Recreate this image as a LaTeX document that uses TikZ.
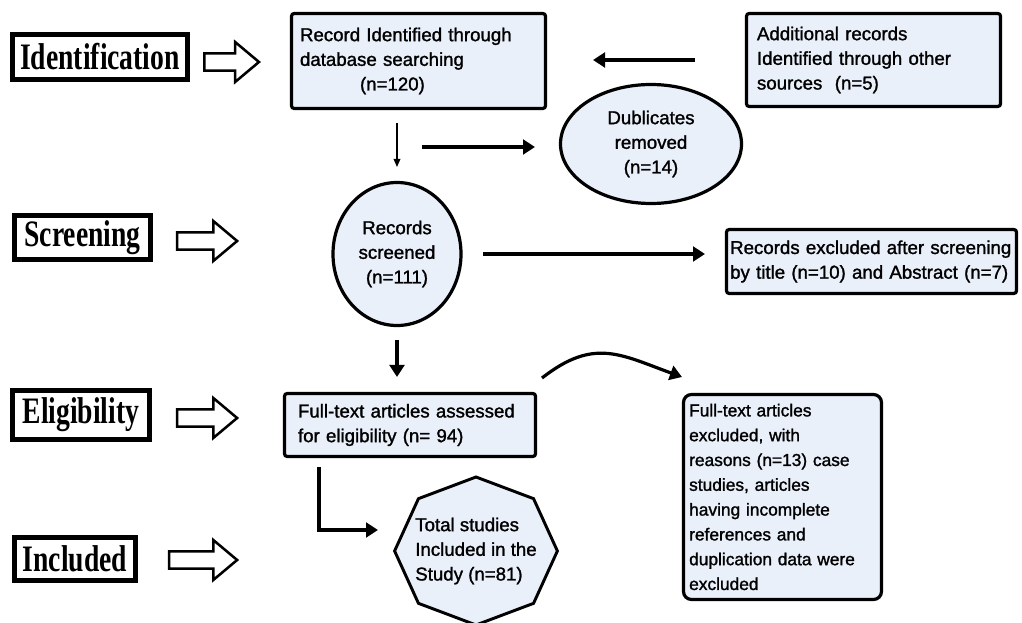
\documentclass[tikz,border=0pt]{standalone}
\usepackage{fontspec}
\setsansfont{Liberation Sans}[FakeBold=1.4]
\newfontfamily\stagefont{Liberation Serif}[FakeStretch=0.74]
\usetikzlibrary{shapes.geometric,shapes.arrows,arrows.meta}
\definecolor{boxfill}{RGB}{234,240,250}
\tikzset{
  stage/.style={draw, line width=3.6pt, inner sep=0pt, fill=white,
    font=\stagefont\bfseries\fontsize{28}{30}\selectfont},
  hollow/.style={single arrow, draw, line width=1.9pt, fill=white,
    inner xsep=0pt, inner ysep=5.5pt, single arrow head extend=8.5pt,
    single arrow tip angle=80},
  box/.style={draw, line width=2.4pt, fill=boxfill, rounded corners=2pt,
    inner sep=0pt, align=left, font=\sffamily\fontsize{14}{18.5}\selectfont},
  oval/.style={ellipse, draw, line width=2.4pt, fill=boxfill, inner sep=0pt,
    align=center, font=\sffamily\fontsize{14}{18.5}\selectfont},
  octa/.style={regular polygon, regular polygon sides=8, shape border rotate=22.5,
    draw, line width=2.2pt, fill=boxfill, inner sep=0pt, minimum size=111pt,
    xscale=1.1, transform shape},
  flow/.style={line width=2.4pt, -{Triangle[length=9pt,width=11pt]}},
  thinflow/.style={line width=0.9pt, -{Triangle[length=6pt,width=5pt]}}
}
\begin{document}
\begin{tikzpicture}[x=0.75pt,y=-0.75pt]
  \useasboundingbox (0,0) rectangle (1022,623);
  \fill[white] (0,0) rectangle (1022,623);

  \node[stage, minimum width=131pt, minimum height=33.75pt] (ident) at (100,57) {Identification};
  \node[stage, minimum width=102pt, minimum height=33pt] (scr) at (82.5,237.5) {Screening};
  \node[stage, minimum width=102.75pt, minimum height=36.75pt] (elig) at (81,415) {Eligibility};
  \node[stage, minimum width=90.75pt, minimum height=32.25pt] (incl) at (75,559) {Included};

  \node[hollow, minimum height=41pt] (identarrow) at (226.5,62) {};
  \node[hollow, minimum height=45pt] (scrarrow) at (202,241) {};
  \node[hollow, minimum height=45pt] (eligarrow) at (202,418) {};
  \node[hollow, minimum height=51pt] (inclarrow) at (198,560) {};

  \node[box, minimum width=190.5pt, minimum height=71.25pt, text width=177.75pt] (rec) at (418.5,61)
    {Record Identified through\\database searching\\\hspace*{45pt}(n=120)};
  \node[box, minimum width=190.5pt, minimum height=69.75pt, text width=174.75pt] (add) at (873.5,60)
    {Additional records\\Identified through other\\sources~ (n=5)};
  \node[oval, minimum width=135.75pt, minimum height=89.25pt] (dup) at (651,144)
    {Dublicates\\removed\\(n=14)};
  \node[oval, minimum width=96pt, minimum height=107.25pt] (screened) at (397,254)
    {Records\\screened\\(n=111)};
  \node[box, minimum width=217.5pt, minimum height=48pt, text width=212pt] (excl) at (871.5,261.5)
    {Records excluded after screening\\by title (n=10) and Abstract (n=7)};
  \node[box, minimum width=188.25pt, minimum height=47.25pt, text width=168pt] (full) at (410,425)
    {Full-text articles assessed\\for eligibility (n= 94)};
  \node[octa] (total) at (476,551) {};
  \node[align=left, font=\sffamily\fontsize{14}{18.5}\selectfont] (totaltext) at (total.center)
    {Total studies\\Included in the\\Study (n=81)};
  \node[box, rounded corners=6pt, minimum width=148.5pt, minimum height=153.75pt, text width=140pt,
    font=\sffamily\fontsize{13}{18.6}\selectfont] (reason) at (782.5,497)
    {Full-text articles\\excluded, with\\reasons (n=13) case\\studies, articles\\having incomplete\\references and\\duplication data were\\excluded};

  \coordinate (d1) at (397,123);
  \coordinate (d2) at (397,167);
  \coordinate (r1) at (422,147);
  \coordinate (r2) at (535,147);
  \coordinate (l1) at (695,60);
  \coordinate (l2) at (593,60);
  \coordinate (s1) at (483,254);
  \coordinate (s2) at (705,254);
  \coordinate (e1) at (397,340);
  \coordinate (e2) at (397,377);
  \coordinate (f1) at (319,467);
  \coordinate (f2) at (378,530);
  \coordinate (c1) at (542,378);
  \coordinate (c2) at (682,377);

  \draw[thinflow] (d1) -- (d2);
  \draw[flow] (r1) -- (r2);
  \draw[flow] (l1) -- (l2);
  \draw[flow] (s1) -- (s2);
  \draw[flow] (e1) -- (e2);
  \draw[flow] (f1) |- (f2);
  \draw[flow] (c1) to[out=38,in=160,looseness=1.2] (c2);
\end{tikzpicture}
\end{document}
